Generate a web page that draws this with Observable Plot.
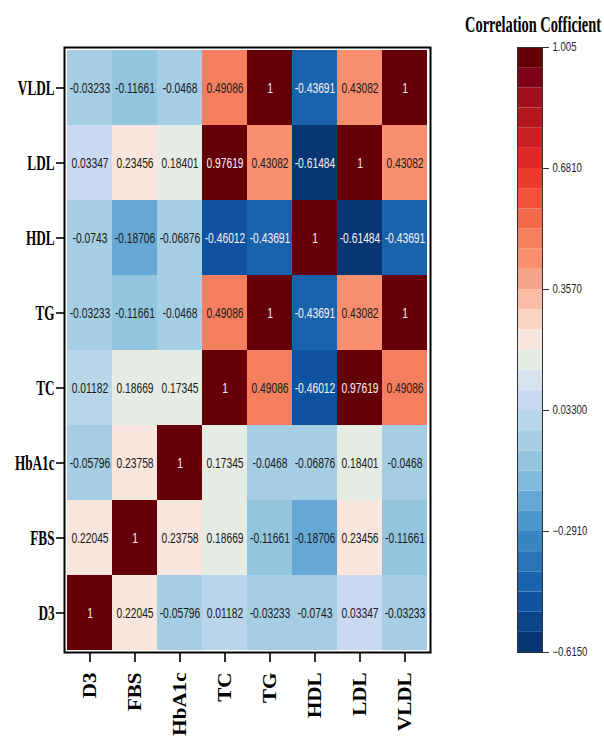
<!DOCTYPE html>
<html><head><meta charset="utf-8">
<script src="https://cdn.jsdelivr.net/npm/d3@7"></script>
<script src="https://cdn.jsdelivr.net/npm/@observablehq/plot@0.6"></script>
<style>
body{margin:0;background:#fff;}
#wrap{position:relative;width:604px;height:738px;overflow:hidden;background:#fff;}
#wrap svg{position:absolute;top:0;}
</style></head><body><div id="wrap"></div>
<script>
const variables = ["D3","FBS","HbA1c","TC","TG","HDL","LDL","VLDL"];
const rowD3    = [1, 0.22045, -0.05796, 0.01182, -0.03233, -0.0743, 0.03347, -0.03233];
const rowFBS   = [0.22045, 1, 0.23758, 0.18669, -0.11661, -0.18706, 0.23456, -0.11661];
const rowHbA1c = [-0.05796, 0.23758, 1, 0.17345, -0.0468, -0.06876, 0.18401, -0.0468];
const rowTC    = [0.01182, 0.18669, 0.17345, 1, 0.49086, -0.46012, 0.97619, 0.49086];
const rowTG    = [-0.03233, -0.11661, -0.0468, 0.49086, 1, -0.43691, 0.43082, 1];
const rowHDL   = [-0.0743, -0.18706, -0.06876, -0.46012, -0.43691, 1, -0.61484, -0.43691];
const rowLDL   = [0.03347, 0.23456, 0.18401, 0.97619, 0.43082, -0.61484, 1, 0.43082];
const rowVLDL  = [-0.03233, -0.11661, -0.0468, 0.49086, 1, -0.43691, 0.43082, 1];
const matrix = [rowD3, rowFBS, rowHbA1c, rowTC, rowTG, rowHDL, rowLDL, rowVLDL];

const colorbarMin = -0.615, colorbarMax = 1.005;
const colorbarTicks = [-0.615, -0.291, 0.033, 0.357, 0.681, 1.005];
const colorbarLabels = ["\u22120.6150", "\u22120.2910", "0.03300", "0.3570", "0.6810", "1.005"];
const legendTitle = "Correlation Cofficient";

// 30-step palette, high -> low (reversed below)
const palette = ["#650008","#7f0018","#9f0f1d","#b5171f","#c91f23","#dc2a26","#ea3c2c","#f05337","#f2694a","#f47e5d",
 "#f98f6e","#f5a38a","#fbbca5","#fcd3c3","#f8e5dd","#e5ece3","#d6e3ee","#c9d9f2","#b8d5ea","#a5cde3",
 "#93c5df","#80b9dc","#65a8d6","#4b97cc","#3886c1","#2874b7","#1963ad","#0f53a0","#0b448b","#083573"].reverse();

const nSteps = palette.length;
const step = (colorbarMax - colorbarMin) / nSteps;
const thresholds = d3.range(1, nSteps).map(i => colorbarMin + i * step);
const colorScale = {type: "threshold", domain: thresholds, range: palette};

const cells = variables.flatMap((r, i) => variables.map((c, j) => ({row: r, col: c, value: matrix[i][j]})));
const isDark = d => d.value > 0.9 || d.value < -0.4;

const wrap = document.getElementById("wrap");
const sans = "Liberation Sans, Arial, sans-serif";
const serif = "Liberation Serif, Times New Roman, serif";

const heat = Plot.plot({
  width: 440, height: 738,
  marginLeft: 64, marginRight: 10, marginTop: 47, marginBottom: 86,
  x: {domain: variables, padding: 0, label: null},
  y: {domain: [...variables].reverse(), padding: 0, label: null},
  color: colorScale,
  style: {background: "transparent"},
  marks: [
    Plot.cell(cells, {x: "col", y: "row", fill: "value"}),
    Plot.text(cells.filter(d => !isDark(d)), {x: "col", y: "row", text: d => String(d.value), fill: "#1a1a1a", fontSize: 14.5, fontFamily: sans}),
    Plot.text(cells.filter(isDark), {x: "col", y: "row", text: d => String(d.value), fill: "#fbefef", fontSize: 14.5, fontFamily: sans}),
    Plot.frame({stroke: "black", strokeWidth: 2}),
    Plot.axisX({tickSize: 10, tickPadding: 10, tickRotate: -90, stroke: "black", strokeWidth: 1.6, fill: "black", fontSize: 18, fontWeight: "bold", fontFamily: serif, label: null}),
    Plot.axisY({tickSize: 8, tickPadding: 2, stroke: "black", strokeWidth: 1.6, fill: "black", fontSize: 22, fontWeight: "bold", fontFamily: serif, label: null})
  ]
});
heat.style.left = "0px";
wrap.appendChild(heat);

const bands = palette.map((c, i) => ({y1: colorbarMin + i * step, y2: colorbarMin + (i + 1) * step, mid: colorbarMin + (i + 0.5) * step}));
const labelMap = new Map(colorbarTicks.map((t, i) => [t, colorbarLabels[i]]));

const bar = Plot.plot({
  width: 164, height: 738,
  marginLeft: 77, marginRight: 62, marginTop: 47, marginBottom: 86,
  x: {domain: [0, 1], axis: null},
  y: {domain: [colorbarMin, colorbarMax], axis: null},
  color: colorScale,
  style: {background: "transparent"},
  marks: [
    Plot.rect(bands, {x1: 0, x2: 1, y1: "y1", y2: "y2", fill: "mid"}),
    Plot.frame({stroke: "#333", strokeWidth: 1}),
    Plot.axisY({anchor: "right", ticks: colorbarTicks, tickFormat: d => labelMap.get(d), tickSize: 6, tickPadding: 4, stroke: "#333", fill: "#222", fontSize: 12, fontFamily: sans, label: null}),
    Plot.text([legendTitle], {text: d => d, frameAnchor: "top", dx: 3, dy: -16, lineAnchor: "bottom", fontSize: 24, fontWeight: "bold", fill: "black", fontFamily: serif})
  ]
});
bar.style.left = "440px";
wrap.appendChild(bar);

// horizontally compress/stretch text glyphs around their anchor point
function squeeze(sel, f) {
  sel.each(function () {
    const x = parseFloat(this.getAttribute("x")) || 0;
    const t = this.getAttribute("transform") || "";
    this.setAttribute("transform", `${t} translate(${x},0) scale(${f},1) translate(${-x},0)`.trim());
  });
}
const H = d3.select(heat), B = d3.select(bar);
squeeze(H.selectAll('g[aria-label="y-axis tick label"] text'), 0.6);
squeeze(H.selectAll('g[aria-label="x-axis tick label"] text'), 1.17);
squeeze(H.selectAll('g[aria-label="text"] text'), 0.71);
squeeze(B.selectAll('g[aria-label="y-axis tick label"] text'), 0.8);
B.selectAll('g[aria-label="text"] text').each(function () {
  const L = this.getComputedTextLength();
  squeeze(d3.select(this), 136 / L);
});
</script>
</body></html>
